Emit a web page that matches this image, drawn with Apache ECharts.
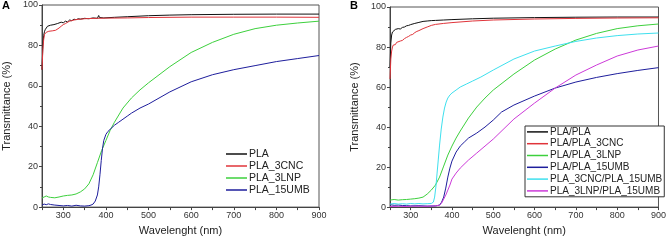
<!DOCTYPE html>
<html>
<head>
<meta charset="utf-8">
<script src="https://cdn.jsdelivr.net/npm/echarts@6/dist/echarts.min.js"></script>
<style>
  html, body { margin: 0; padding: 0; background: #fff; }
  #chart { width: 669px; height: 241px; }
</style>
</head>
<body>
<div id="chart"></div>
<script>
// Panel A
const wlA_PLA = [250,252,254,256,258,260,263,266,270,274,278,282,286,290,295,300,305,310,315,320,325,330,335,340,350,360,370,380,383,385,388,395,420,450,500,550,600,700,800,900];
const tA_PLA  = [68,80,85,87,88,88.5,89.5,88.8,90,89.2,90.3,89.6,90.8,90.5,91.5,91.2,92,91.6,92.6,92.2,93,92.7,93.2,93,93.4,93.2,93.6,93.4,94.8,93.8,93.6,93.6,93.9,94.2,94.7,95,95.2,95.4,95.5,95.5];

const wlA_3CNC = [250,252,254,256,258,260,263,266,270,274,278,282,286,290,295,300,305,310,315,320,330,340,350,360,380,400,450,500,600,700,800,900];
const tA_3CNC  = [68,78,83,85.5,86,86.5,86,87,86.3,87.2,86.6,87.5,88,88.6,89.5,90.3,90.8,91.5,92,92.3,92.8,93,93.2,93.3,93.4,93.5,93.6,93.8,94,94,94,93.9];

const wlA_3LNP = [250,255,260,265,270,280,290,300,310,320,330,340,350,360,370,380,390,400,410,420,440,460,480,500,550,600,650,700,750,800,850,900];
const tA_3LNP  = [4.5,5,5.5,5,4.8,4.6,5,5.5,5.8,6,6.5,7.5,9,11.5,16,22,28,33,38,42,49,54,58,61.5,69.5,76.5,81.5,85.5,88.3,90,91.1,92];

const wlA_15UMB = [250,255,260,265,270,280,290,300,310,320,330,340,350,360,365,370,375,380,383,386,389,392,395,400,405,410,420,430,440,450,460,480,500,550,600,650,700,750,800,850,900];
const tA_15UMB  = [1,1.5,1.2,1.6,1.3,1,0.8,0.6,0.8,0.5,0.9,0.6,0.5,0.7,1,1.5,3,6,10,16,23,29,33,36,37.5,38.5,40.5,42,43.5,45,46.5,49,51,57,62,65.5,68,70,72,73.5,75];

// Panel B
const wlB_PLA = [250,252,254,256,258,260,263,266,270,275,280,285,290,295,300,310,320,330,340,350,360,380,400,450,500,600,700,800,900];
const tB_PLA  = [70,82,86,87.5,88,88.3,88.8,88.5,89.2,89,89.8,90,90.6,90.8,91.2,91.8,92.3,92.8,93,93.2,93.3,93.5,93.7,94.1,94.4,94.7,94.9,95,95];

const wlB_3CNC = [250,252,254,256,258,260,263,266,270,275,280,285,290,295,300,305,310,315,320,330,340,350,360,380,400,450,500,600,700,800,900];
const tB_3CNC  = [64,74,78,80,81,81.5,81.2,82.3,82,83,83.3,84.2,84.8,85.3,86,86.3,87.2,87.8,88.2,89.2,90,90.8,91.3,91.8,92.2,93,93.5,94,94.3,94.5,94.6];

const wlB_3LNP = [250,260,270,280,290,300,310,320,330,340,350,360,370,380,390,400,410,420,440,460,480,500,550,600,650,700,750,800,850,900];
const tB_3LNP  = [3.5,3.8,3.5,3.7,3.8,4,4.2,4.5,5,6.5,8.5,11,15,20.5,26,30.5,34.5,38,44.5,50,54.5,58.5,66.5,73.5,79,83.5,86.8,89.2,90.6,91.5];

const wlB_15UMB = [250,260,270,280,290,300,320,340,360,370,375,380,385,390,395,400,410,420,430,440,460,480,500,520,550,600,650,700,750,800,850,900];
const tB_15UMB  = [1.2,0.9,1,0.8,0.7,0.6,0.7,0.5,0.6,1,2.5,5,9.5,15,19.5,23,27.5,30.5,32.5,34.5,37,40,43.5,47.5,51,55.5,59.5,62.5,64.8,66.7,68.3,69.7];

const wlB_3CNC15 = [250,260,270,280,290,300,310,320,330,340,350,355,358,361,364,367,370,374,378,382,386,390,395,400,410,420,435,450,470,500,550,600,650,700,750,800,850,900];
const tB_3CNC15  = [1.5,1.8,1.5,1.7,1.5,1.8,1.6,1.8,1.6,1.7,1.8,2.5,5,10,17,24,31,39,45,49.5,52.5,54.5,56,57,58.5,60,61.5,63,65,68.5,74,78,80.5,82.8,84.5,85.7,86.5,87];

const wlB_3LNP15 = [250,270,290,310,330,350,360,370,375,380,385,390,395,400,410,420,440,460,480,500,550,600,650,700,750,800,850,900];
const tB_3LNP15  = [0.3,0.4,0.3,0.5,0.4,0.5,0.6,1,2,4,6,8.5,11,14,17,19.5,23.5,27,30.5,34,44,52,59.5,66,71,75.5,78.5,80.5];

const namesA = ['PLA', 'PLA_3CNC', 'PLA_3LNP', 'PLA_15UMB'];
const namesB = ['PLA/PLA', 'PLA/PLA_3CNC', 'PLA/PLA_3LNP', 'PLA/PLA_15UMB', 'PLA_3CNC/PLA_15UMB', 'PLA_3LNP/PLA_15UMB'];
const xTicks = [250,300,350,400,450,500,550,600,650,700,750,800,850,900];
const xLabels = [300,400,500,600,700,800,900];

const colors = {
  black: '#111111', red: '#e0343a', green: '#3dd03d', blue: '#1e1e9c', cyan: '#3ee0ee', magenta: '#cc3ad8'
};

const pairs = (xs, ys) => xs.map((x, i) => [x, ys[i]]);

const font = 'Liberation Sans, Arial, sans-serif';

function xAxisFor(idx) {
  return {
    gridIndex: idx, type: 'value', min: 250, max: 900,
    name: 'Wavelenght (nm)', nameLocation: 'middle', nameGap: 17,
    nameTextStyle: { fontFamily: font, fontSize: 11, color: '#222' },
    axisLine: { lineStyle: { color: '#444', width: 1 } },
    axisTick: { customValues: xTicks, length: 3, lineStyle: { color: '#444' } },
    axisLabel: { customValues: xLabels, fontFamily: font, fontSize: 9, color: '#333', margin: 4 },
    splitLine: { show: false }
  };
}
function yAxisFor(idx) {
  return {
    gridIndex: idx, type: 'value', min: 0, max: 100, interval: 20,
    name: 'Transmittance (%)', nameLocation: 'middle', nameGap: 30,
    nameTextStyle: { fontFamily: font, fontSize: 11, color: '#222' },
    axisLine: { show: true, lineStyle: { color: '#444', width: 1 } },
    axisTick: { show: true, length: 3, lineStyle: { color: '#444' } },
    minorTick: { show: true, splitNumber: 2, length: 2, lineStyle: { color: '#444' } },
    axisLabel: { fontFamily: font, fontSize: 9, color: '#333', margin: 4 },
    splitLine: { show: false }
  };
}
function line(name, data, color, idx) {
  return {
    name, type: 'line', xAxisIndex: idx, yAxisIndex: idx, data,
    showSymbol: false, symbol: 'none', smooth: false,
    lineStyle: { color, width: 1 }, itemStyle: { color }
  };
}

const chart = echarts.init(document.getElementById('chart'), null, { renderer: 'canvas' });
chart.setOption({
  animation: false,
  backgroundColor: '#fff',
  grid: [
    { left: 42, top: 5, width: 277, height: 204, show: true, borderColor: '#555', borderWidth: 1, backgroundColor: 'transparent' },
    { left: 390, top: 7, width: 271, height: 202, show: true, borderColor: '#555', borderWidth: 1, backgroundColor: 'transparent' }
  ],
  xAxis: [xAxisFor(0), xAxisFor(1)],
  yAxis: [yAxisFor(0), yAxisFor(1)],
  legend: [
    {
      data: namesA, orient: 'vertical', left: 226, top: 148, itemGap: 0,
      itemWidth: 21, itemHeight: 1.5, icon: 'rect',
      textStyle: { fontFamily: font, fontSize: 10.5, color: '#222', lineHeight: 12, padding: [0, 0, 0, -3] },
      padding: 0
    },
    {
      data: namesB, orient: 'vertical', left: 525, top: 126, itemGap: 0,
      itemWidth: 21, itemHeight: 1.5, icon: 'rect',
      textStyle: { fontFamily: font, fontSize: 10, color: '#222', lineHeight: 11.8, padding: [0, 0, 0, -3] },
      padding: [0, 2, 0, 2], borderColor: '#333', borderWidth: 1, backgroundColor: '#fff'
    }
  ],
  graphic: [
    { type: 'text', left: 2, top: 0, style: { text: 'A', font: 'bold 11px ' + font, fill: '#000' } },
    { type: 'text', left: 350, top: 0, style: { text: 'B', font: 'bold 11px ' + font, fill: '#000' } }
  ],
  series: [
    line('PLA', pairs(wlA_PLA, tA_PLA), colors.black, 0),
    line('PLA_3CNC', pairs(wlA_3CNC, tA_3CNC), colors.red, 0),
    line('PLA_3LNP', pairs(wlA_3LNP, tA_3LNP), colors.green, 0),
    line('PLA_15UMB', pairs(wlA_15UMB, tA_15UMB), colors.blue, 0),
    line('PLA/PLA', pairs(wlB_PLA, tB_PLA), colors.black, 1),
    line('PLA/PLA_3CNC', pairs(wlB_3CNC, tB_3CNC), colors.red, 1),
    line('PLA/PLA_3LNP', pairs(wlB_3LNP, tB_3LNP), colors.green, 1),
    line('PLA/PLA_15UMB', pairs(wlB_15UMB, tB_15UMB), colors.blue, 1),
    line('PLA_3CNC/PLA_15UMB', pairs(wlB_3CNC15, tB_3CNC15), colors.cyan, 1),
    line('PLA_3LNP/PLA_15UMB', pairs(wlB_3LNP15, tB_3LNP15), colors.magenta, 1)
  ]
});
</script>
</body>
</html>
